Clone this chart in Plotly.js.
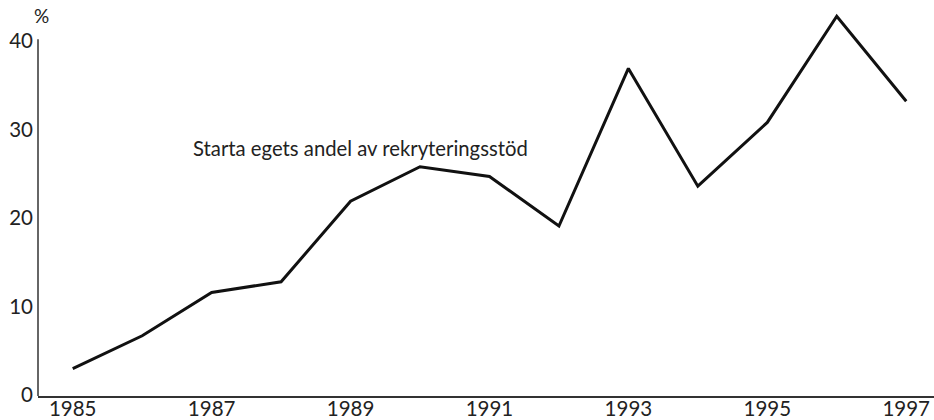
<!DOCTYPE html>
<html>
<head>
<meta charset="utf-8">
<script src="https://cdn.plot.ly/plotly-3.0.1.min.js"></script>
<style>html,body{margin:0;padding:0;background:#fff;}#chart{width:934px;height:420px;}</style>
</head>
<body>
<div id="chart"></div>
<script>
const years = [1985, 1986, 1987, 1988, 1989, 1990, 1991, 1992, 1993, 1994, 1995, 1996, 1997];
const share = [3.0, 6.7, 11.6, 12.8, 21.9, 25.8, 24.7, 19.1, 36.9, 23.6, 30.8, 42.8, 33.2];
const xTicks = [1985, 1987, 1989, 1991, 1993, 1995, 1997];
const yTicks = [0, 10, 20, 30, 40];
const seriesLabel = 'Starta egets andel av rekryteringsstöd';
const unitLabel = '%';

const font = {family: 'Lato, "Open Sans", sans-serif', size: 20.5, color: '#222'};

Plotly.newPlot('chart', [{
  x: years, y: share, type: 'scatter', mode: 'lines',
  line: {color: '#111', width: 3}, hoverinfo: 'skip'
}], {
  width: 934, height: 420,
  margin: {l: 38, r: 0, t: 10, b: 24},
  paper_bgcolor: '#fff', plot_bgcolor: '#fff',
  showlegend: false,
  font: font,
  xaxis: {
    range: [1984.5, 1997.4], tickvals: xTicks, ticktext: xTicks.map(String),
    showgrid: false, zeroline: false, showline: true, linecolor: '#333', linewidth: 1.5,
    ticks: '', ticklabelstandoff: -6, tickfont: font
  },
  yaxis: {
    range: [-0.1, 43.5], tickvals: yTicks, showgrid: false, zeroline: false,
    showline: false, ticks: '', ticklabelstandoff: 4, tickfont: font
  },
  shapes: [{
    type: 'line', xref: 'paper', yref: 'y', x0: 0, x1: 0, y0: -0.1, y1: 40.2,
    line: {color: '#333', width: 1.5}
  }],
  annotations: [
    {text: seriesLabel, xref: 'x', yref: 'y', x: 1986.7, y: 27.9, xanchor: 'left', yanchor: 'middle',
     showarrow: false, font: {family: font.family, size: 20.3, color: '#222'}},
    {text: unitLabel, xref: 'paper', yref: 'paper', x: 0, y: 1.02, xanchor: 'center', yanchor: 'top',
     showarrow: false, xshift: 3, font: {family: font.family, size: 19, color: '#222'}}
  ]
}, {displayModeBar: false, staticPlot: true});
</script>
</body>
</html>
